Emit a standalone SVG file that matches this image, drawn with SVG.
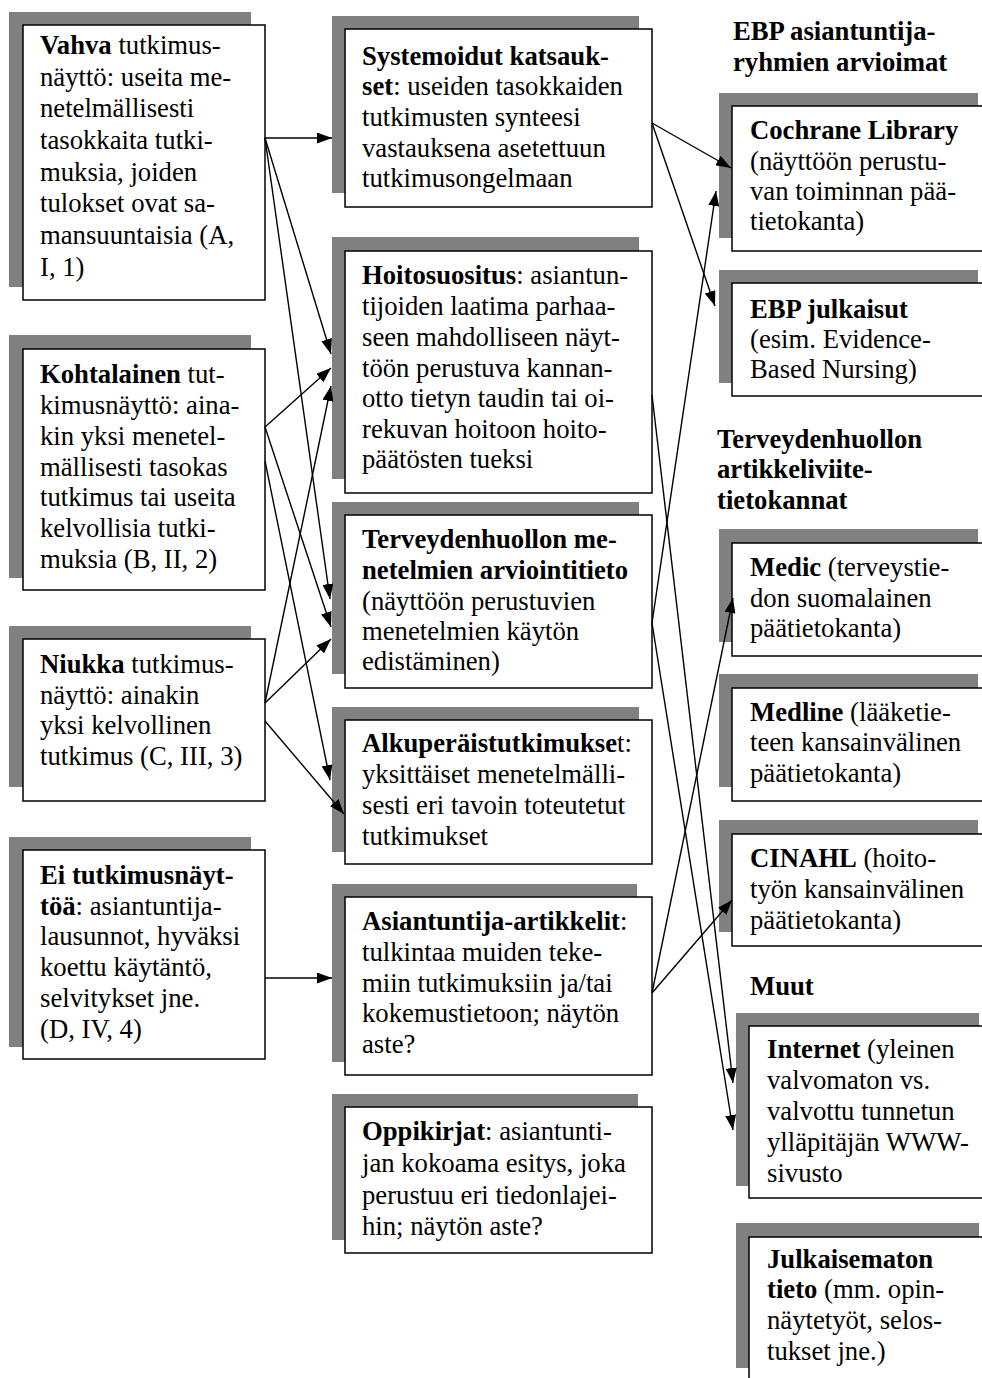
<svg xmlns="http://www.w3.org/2000/svg" width="982" height="1378" viewBox="0 0 982 1378">
<style>
.sh{fill:#808080;stroke:none}
.bx{fill:#fff;stroke:#000;stroke-width:1.5}
text{font-family:"Liberation Serif","Times New Roman",serif;font-size:26.7px;fill:#000}
.b{font-weight:bold}
.c{fill:none;stroke:#000;stroke-width:1.4;marker-end:url(#ah)}
</style>
<defs>
<marker id="ah" markerUnits="userSpaceOnUse" markerWidth="16" markerHeight="11" refX="15" refY="5.5" orient="auto">
<path d="M0,0 L15,5.5 L0,11 z" fill="#000"/>
</marker>
</defs>
<rect width="982" height="1378" fill="#fff"/>

<g id="vahva">
<rect class="sh" x="9" y="12" width="242" height="275"/>
<rect class="bx" x="23" y="25" width="242" height="275"/>
<text x="40" y="54"><tspan class="b">Vahva</tspan> tutkimus-</text>
<text x="40" y="86">näyttö: useita me-</text>
<text x="40" y="117">netelmällisesti</text>
<text x="40" y="149">tasokkaita tutki-</text>
<text x="40" y="181">muksia, joiden</text>
<text x="40" y="212">tulokset ovat sa-</text>
<text x="40" y="244">mansuuntaisia (A,</text>
<text x="40" y="276">I, 1)</text>
</g>

<g id="kohtalainen">
<rect class="sh" x="9" y="335" width="242" height="243"/>
<rect class="bx" x="23" y="349" width="242" height="241"/>
<text x="40" y="383"><tspan class="b">Kohtalainen</tspan> tut-</text>
<text x="40" y="414">kimusnäyttö: aina-</text>
<text x="40" y="445">kin yksi menetel-</text>
<text x="40" y="476">mällisesti tasokas</text>
<text x="40" y="506">tutkimus tai useita</text>
<text x="40" y="537">kelvollisia tutki-</text>
<text x="40" y="568">muksia (B, II, 2)</text>
</g>

<g id="niukka">
<rect class="sh" x="9" y="626" width="242" height="161"/>
<rect class="bx" x="23" y="639" width="242" height="162"/>
<text x="40" y="673"><tspan class="b">Niukka</tspan> tutkimus-</text>
<text x="40" y="704">näyttö: ainakin</text>
<text x="40" y="734">yksi kelvollinen</text>
<text x="40" y="765">tutkimus (C, III, 3)</text>
</g>

<g id="ei">
<rect class="sh" x="9" y="837" width="242" height="210"/>
<rect class="bx" x="23" y="850" width="242" height="209"/>
<text x="40" y="884"><tspan class="b">Ei tutkimusnäyt-</tspan></text>
<text x="40" y="915"><tspan class="b">töä</tspan>: asiantuntija-</text>
<text x="40" y="945">lausunnot, hyväksi</text>
<text x="40" y="976">koettu käytäntö,</text>
<text x="40" y="1007">selvitykset jne.</text>
<text x="40" y="1038">(D, IV, 4)</text>
</g>

<g id="systemoidut">
<rect class="sh" x="332" y="16" width="307" height="177"/>
<rect class="bx" x="345" y="29" width="307" height="178"/>
<text x="362" y="65"><tspan class="b">Systemoidut katsauk-</tspan></text>
<text x="362" y="95"><tspan class="b">set</tspan>: useiden tasokkaiden</text>
<text x="362" y="126">tutkimusten synteesi</text>
<text x="362" y="157">vastauksena asetettuun</text>
<text x="362" y="187">tutkimusongelmaan</text>
</g>

<g id="hoitosuositus">
<rect class="sh" x="332" y="237" width="307" height="242"/>
<rect class="bx" x="345" y="251" width="307" height="242"/>
<text x="362" y="284"><tspan class="b">Hoitosuositus</tspan>: asiantun-</text>
<text x="362" y="315">tijoiden laatima parhaa-</text>
<text x="362" y="346">seen mahdolliseen näyt-</text>
<text x="362" y="377">töön perustuva kannan-</text>
<text x="362" y="407">otto tietyn taudin tai oi-</text>
<text x="362" y="438">rekuvan hoitoon hoito-</text>
<text x="362" y="468">päätösten tueksi</text>
</g>

<g id="terveydenhuollon">
<rect class="sh" x="332" y="502" width="307" height="172"/>
<rect class="bx" x="345" y="515" width="307" height="173"/>
<text x="362" y="548"><tspan class="b">Terveydenhuollon me-</tspan></text>
<text x="362" y="579"><tspan class="b">netelmien arviointitieto</tspan></text>
<text x="362" y="610">(näyttöön perustuvien</text>
<text x="362" y="640">menetelmien käytön</text>
<text x="362" y="670">edistäminen)</text>
</g>

<g id="alkuperais">
<rect class="sh" x="332" y="707" width="307" height="145"/>
<rect class="bx" x="345" y="720" width="307" height="144"/>
<text x="362" y="752"><tspan class="b">Alkuperäistutkimukse</tspan>t:</text>
<text x="362" y="783">yksittäiset menetelmälli-</text>
<text x="362" y="814">sesti eri tavoin toteutetut</text>
<text x="362" y="845">tutkimukset</text>
</g>

<g id="asiantuntija">
<rect class="sh" x="332" y="884" width="305" height="178"/>
<rect class="bx" x="345" y="897" width="307" height="178"/>
<text x="362" y="930"><tspan class="b">Asiantuntija-artikkelit</tspan>:</text>
<text x="362" y="961">tulkintaa muiden teke-</text>
<text x="362" y="992">miin tutkimuksiin ja/tai</text>
<text x="362" y="1022">kokemustietoon; näytön</text>
<text x="362" y="1053">aste?</text>
</g>

<g id="oppikirjat">
<rect class="sh" x="332" y="1094" width="306" height="146"/>
<rect class="bx" x="345" y="1107" width="307" height="146"/>
<text x="362" y="1140"><tspan class="b">Oppikirjat</tspan>: asiantunti-</text>
<text x="362" y="1172">jan kokoama esitys, joka</text>
<text x="362" y="1204">perustuu eri tiedonlajei-</text>
<text x="362" y="1235">hin; näytön aste?</text>
</g>

<g id="otsikko-ebp">
<text class="b" x="733" y="40">EBP asiantuntija-</text>
<text class="b" x="733" y="71">ryhmien arvioimat</text>
</g>

<g id="cochrane">
<rect class="sh" x="719" y="93" width="259" height="145"/>
<rect class="bx" x="732" y="106" width="265" height="145"/>
<text x="750" y="139"><tspan class="b">Cochrane Library</tspan></text>
<text x="750" y="170">(näyttöön perustu-</text>
<text x="750" y="200">van toiminnan pää-</text>
<text x="750" y="230">tietokanta)</text>
</g>

<g id="ebp-julkaisut">
<rect class="sh" x="719" y="270" width="259" height="113"/>
<rect class="bx" x="732" y="283" width="265" height="113"/>
<text x="750" y="318"><tspan class="b">EBP julkaisut</tspan></text>
<text x="750" y="348">(esim. Evidence-</text>
<text x="750" y="378">Based Nursing)</text>
</g>

<g id="otsikko-terveydenhuollon">
<text class="b" x="717" y="448">Terveydenhuollon</text>
<text class="b" x="717" y="478">artikkeliviite-</text>
<text class="b" x="717" y="509">tietokannat</text>
</g>

<g id="medic">
<rect class="sh" x="719" y="529" width="259" height="113"/>
<rect class="bx" x="732" y="543" width="265" height="113"/>
<text x="750" y="576"><tspan class="b">Medic</tspan> (terveystie-</text>
<text x="750" y="607">don suomalainen</text>
<text x="750" y="637">päätietokanta)</text>
</g>

<g id="medline">
<rect class="sh" x="719" y="674" width="259" height="113"/>
<rect class="bx" x="732" y="688" width="265" height="113"/>
<text x="750" y="721"><tspan class="b">Medline</tspan> (lääketie-</text>
<text x="750" y="751">teen kansainvälinen</text>
<text x="750" y="782">päätietokanta)</text>
</g>

<g id="cinahl">
<rect class="sh" x="719" y="820" width="259" height="112"/>
<rect class="bx" x="732" y="834" width="265" height="112"/>
<text x="750" y="867"><tspan class="b">CINAHL</tspan> (hoito-</text>
<text x="750" y="898">työn kansainvälinen</text>
<text x="750" y="929">päätietokanta)</text>
</g>

<g id="otsikko-muut">
<text class="b" x="750" y="995">Muut</text>
</g>

<g id="internet">
<rect class="sh" x="736" y="1013" width="243" height="173"/>
<rect class="bx" x="749" y="1026" width="250" height="172"/>
<text x="767" y="1058"><tspan class="b">Internet</tspan> (yleinen</text>
<text x="767" y="1089">valvomaton vs.</text>
<text x="767" y="1120">valvottu tunnetun</text>
<text x="767" y="1151">ylläpitäjän WWW-</text>
<text x="767" y="1182">sivusto</text>
</g>

<g id="julkaisematon">
<rect class="sh" x="736" y="1223" width="243" height="145"/>
<rect class="bx" x="749" y="1237" width="250" height="160"/>
<text x="767" y="1268"><tspan class="b">Julkaisematon</tspan></text>
<text x="767" y="1298"><tspan class="b">tieto</tspan> (mm. opin-</text>
<text x="767" y="1329">näytetyöt, selos-</text>
<text x="767" y="1360">tukset jne.)</text>
</g>

<g id="connectors">
<line class="c" x1="265" y1="138" x2="332" y2="138"/>
<line class="c" x1="265" y1="138" x2="331" y2="354"/>
<line class="c" x1="265" y1="138" x2="330" y2="599"/>
<line class="c" x1="265" y1="427" x2="331" y2="368"/>
<line class="c" x1="265" y1="427" x2="331" y2="627"/>
<line class="c" x1="265" y1="461" x2="330" y2="780"/>
<line class="c" x1="265" y1="703" x2="331" y2="386"/>
<line class="c" x1="265" y1="703" x2="331" y2="639"/>
<line class="c" x1="265" y1="721" x2="344" y2="814"/>
<line class="c" x1="265" y1="978" x2="332" y2="978"/>
<line class="c" x1="652" y1="123" x2="731" y2="168"/>
<line class="c" x1="652" y1="123" x2="715" y2="306"/>
<line class="c" x1="652" y1="395" x2="733" y2="1083"/>
<line class="c" x1="652" y1="623" x2="716" y2="191"/>
<line class="c" x1="652" y1="623" x2="733" y2="1130"/>
<line class="c" x1="652" y1="993" x2="733" y2="598"/>
<line class="c" x1="652" y1="993" x2="732" y2="900"/>
</g>
</svg>
